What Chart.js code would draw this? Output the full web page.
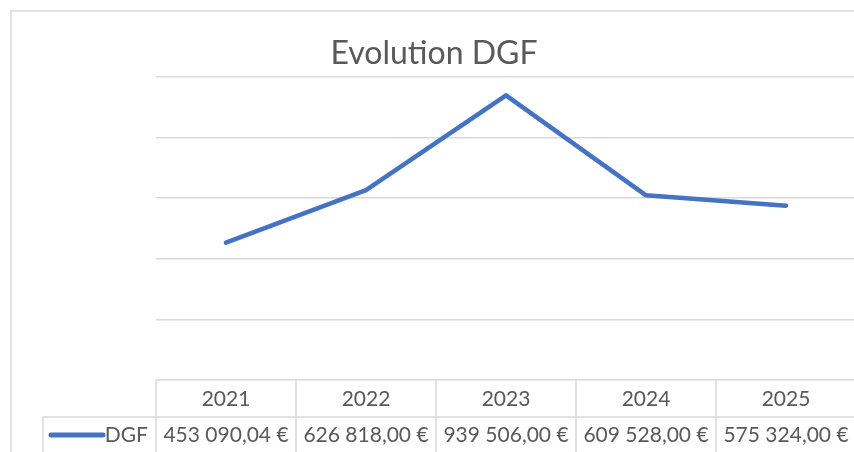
<!DOCTYPE html>
<html>
<head>
<meta charset="utf-8">
<script src="https://cdn.jsdelivr.net/npm/chart.js@4"></script>
<style>
  html, body { margin: 0; padding: 0; background: #fff; overflow: hidden; }
  #wrap { width: 854px; height: 452px; overflow: hidden; }
  canvas { display: block; }
</style>
</head>
<body>
<div id="wrap"><canvas id="dgfChart" width="880" height="452"></canvas></div>
<script>
// --- data ---
const chartTitle = 'Evolution DGF';
const seriesName = 'DGF';
const years = ['2021', '2022', '2023', '2024', '2025'];
const dgfValues = [453090.04, 626818.00, 939506.00, 609528.00, 575324.00];
const yTicks = [0, 200000, 400000, 600000, 800000, 1000000];

const lineColor = '#4472C4';
const gridColor = '#d9d9d9';
const textColor = '#595959';
const fontFamily = 'Lato, "Open Sans", sans-serif';

// 453090.04 -> "453 090,04 €"
function formatEuro(v) {
    const parts = v.toFixed(2).split('.');
    const intPart = parts[0].replace(/\B(?=(\d{3})+(?!\d))/g, ' ');
    return intPart + ',' + parts[1] + ' €';
}

// frame, title and data table drawn around the plot
const tablePlugin = {
    id: 'excelTable',
    beforeDraw(chart) {
        const ctx = chart.ctx;
        ctx.save();
        ctx.strokeStyle = gridColor;
        ctx.lineWidth = 1.5;
        ctx.strokeRect(11, 11, chart.width, chart.height);
        ctx.restore();
    },
    afterDraw(chart) {
        const ctx = chart.ctx;
        const x = chart.scales.x;
        const area = chart.chartArea;
        const colW = (area.right - area.left) / years.length;
        const rowTop = area.bottom;
        const rowMid = rowTop + 37;
        const rowBottom = chart.height;

        ctx.save();
        // title
        ctx.fillStyle = textColor;
        ctx.font = '32px ' + fontFamily;
        ctx.textAlign = 'center';
        ctx.textBaseline = 'middle';
        ctx.fillText(chartTitle, 434, 54);

        // table lines
        ctx.strokeStyle = gridColor;
        ctx.lineWidth = 1.5;
        ctx.beginPath();
        ctx.moveTo(43, rowMid);
        ctx.lineTo(area.right, rowMid);
        for (let i = 0; i < years.length; i++) {
            const left = area.left + i * colW;
            ctx.moveTo(left, rowTop);
            ctx.lineTo(left, rowBottom);
        }
        ctx.moveTo(area.right, rowTop);
        ctx.lineTo(area.right, rowBottom);
        ctx.moveTo(43, rowMid);
        ctx.lineTo(43, rowBottom);
        ctx.stroke();

        // header + values
        ctx.font = '21px ' + fontFamily;
        ctx.fillStyle = textColor;
        years.forEach((yr, i) => {
            const cx = x.getPixelForValue(i);
            ctx.fillText(yr, cx, rowTop + 19);
            ctx.fillText(formatEuro(dgfValues[i]), cx, rowMid + 18);
        });

        // legend key
        ctx.textAlign = 'right';
        ctx.fillText(seriesName, area.left - 8, rowMid + 18);
        ctx.strokeStyle = lineColor;
        ctx.lineWidth = 5;
        ctx.lineCap = 'round';
        ctx.beginPath();
        ctx.moveTo(51, rowMid + 18);
        ctx.lineTo(103, rowMid + 18);
        ctx.stroke();
        ctx.restore();
    }
};

new Chart(document.getElementById('dgfChart'), {
    type: 'line',
    data: {
        labels: years,
        datasets: [{
            label: seriesName,
            data: dgfValues,
            borderColor: lineColor,
            borderWidth: 4.5,
            borderCapStyle: 'round',
            borderJoinStyle: 'round',
            pointRadius: 0,
            tension: 0,
            fill: false
        }]
    },
    options: {
        responsive: false,
        animation: false,
        layout: {
            padding: { left: 156, top: 77, right: 24, bottom: 72 }
        },
        scales: {
            x: {
                type: 'category',
                offset: true,
                display: false
            },
            y: {
                min: 0,
                max: 1000000,
                afterBuildTicks: axis => {
                    axis.ticks = yTicks.map(v => ({ value: v }));
                },
                ticks: { display: false },
                grid: {
                    color: gridColor,
                    lineWidth: 1.5,
                    drawTicks: false
                },
                border: { display: false }
            }
        },
        plugins: {
            legend: { display: false },
            title: { display: false },
            tooltip: { enabled: false }
        }
    },
    plugins: [tablePlugin]
});
</script>
</body>
</html>
